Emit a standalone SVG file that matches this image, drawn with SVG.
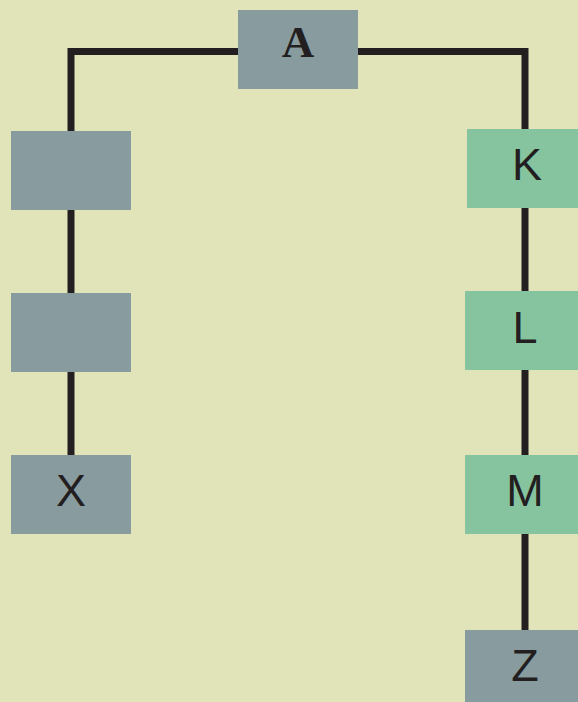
<svg xmlns="http://www.w3.org/2000/svg" width="578" height="702" viewBox="0 0 578 702">
<style>
.gray{fill:#889ca0}
.green{fill:#86c4a0}
.lbl{font-family:"Liberation Sans",Arial,sans-serif;font-size:45px;fill:#231f20;text-anchor:middle}
.ser{font-family:"Liberation Serif","Times New Roman",serif;font-size:45px;font-weight:bold;fill:#231f20;text-anchor:middle}
.conn{fill:none;stroke:#231f20;stroke-width:7;stroke-linejoin:miter}
</style>
<rect width="578" height="702" fill="#e1e4b9"/>
<g id="connectors">
<polyline class="conn" points="71,131 71,51.5 525,51.5 525,129"/>
<line class="conn" x1="71" y1="210" x2="71" y2="293"/>
<line class="conn" x1="71" y1="372" x2="71" y2="455"/>
<line class="conn" x1="525" y1="207" x2="525" y2="291"/>
<line class="conn" x1="525" y1="370" x2="525" y2="455"/>
<line class="conn" x1="525" y1="534" x2="525" y2="630"/>
</g>
<g id="nodeA"><rect class="gray" x="238" y="10" width="120" height="79"/><text class="ser" x="298" y="57">A</text></g>
<g id="nodeL1"><rect class="gray" x="11" y="131" width="120" height="79"/></g>
<g id="nodeL2"><rect class="gray" x="11" y="293" width="120" height="79"/></g>
<g id="nodeX"><rect class="gray" x="11" y="455" width="120" height="79"/><text class="lbl" x="71" y="506">X</text></g>
<g id="nodeK"><rect class="green" x="467" y="129" width="120" height="79"/><text class="lbl" x="527" y="180">K</text></g>
<g id="nodeL"><rect class="green" x="465" y="291" width="120" height="79"/><text class="lbl" x="525" y="343">L</text></g>
<g id="nodeM"><rect class="green" x="465" y="455" width="120" height="79"/><text class="lbl" x="525" y="506">M</text></g>
<g id="nodeZ"><rect class="gray" x="465" y="630" width="120" height="79"/><text class="lbl" x="525" y="681">Z</text></g>
</svg>
